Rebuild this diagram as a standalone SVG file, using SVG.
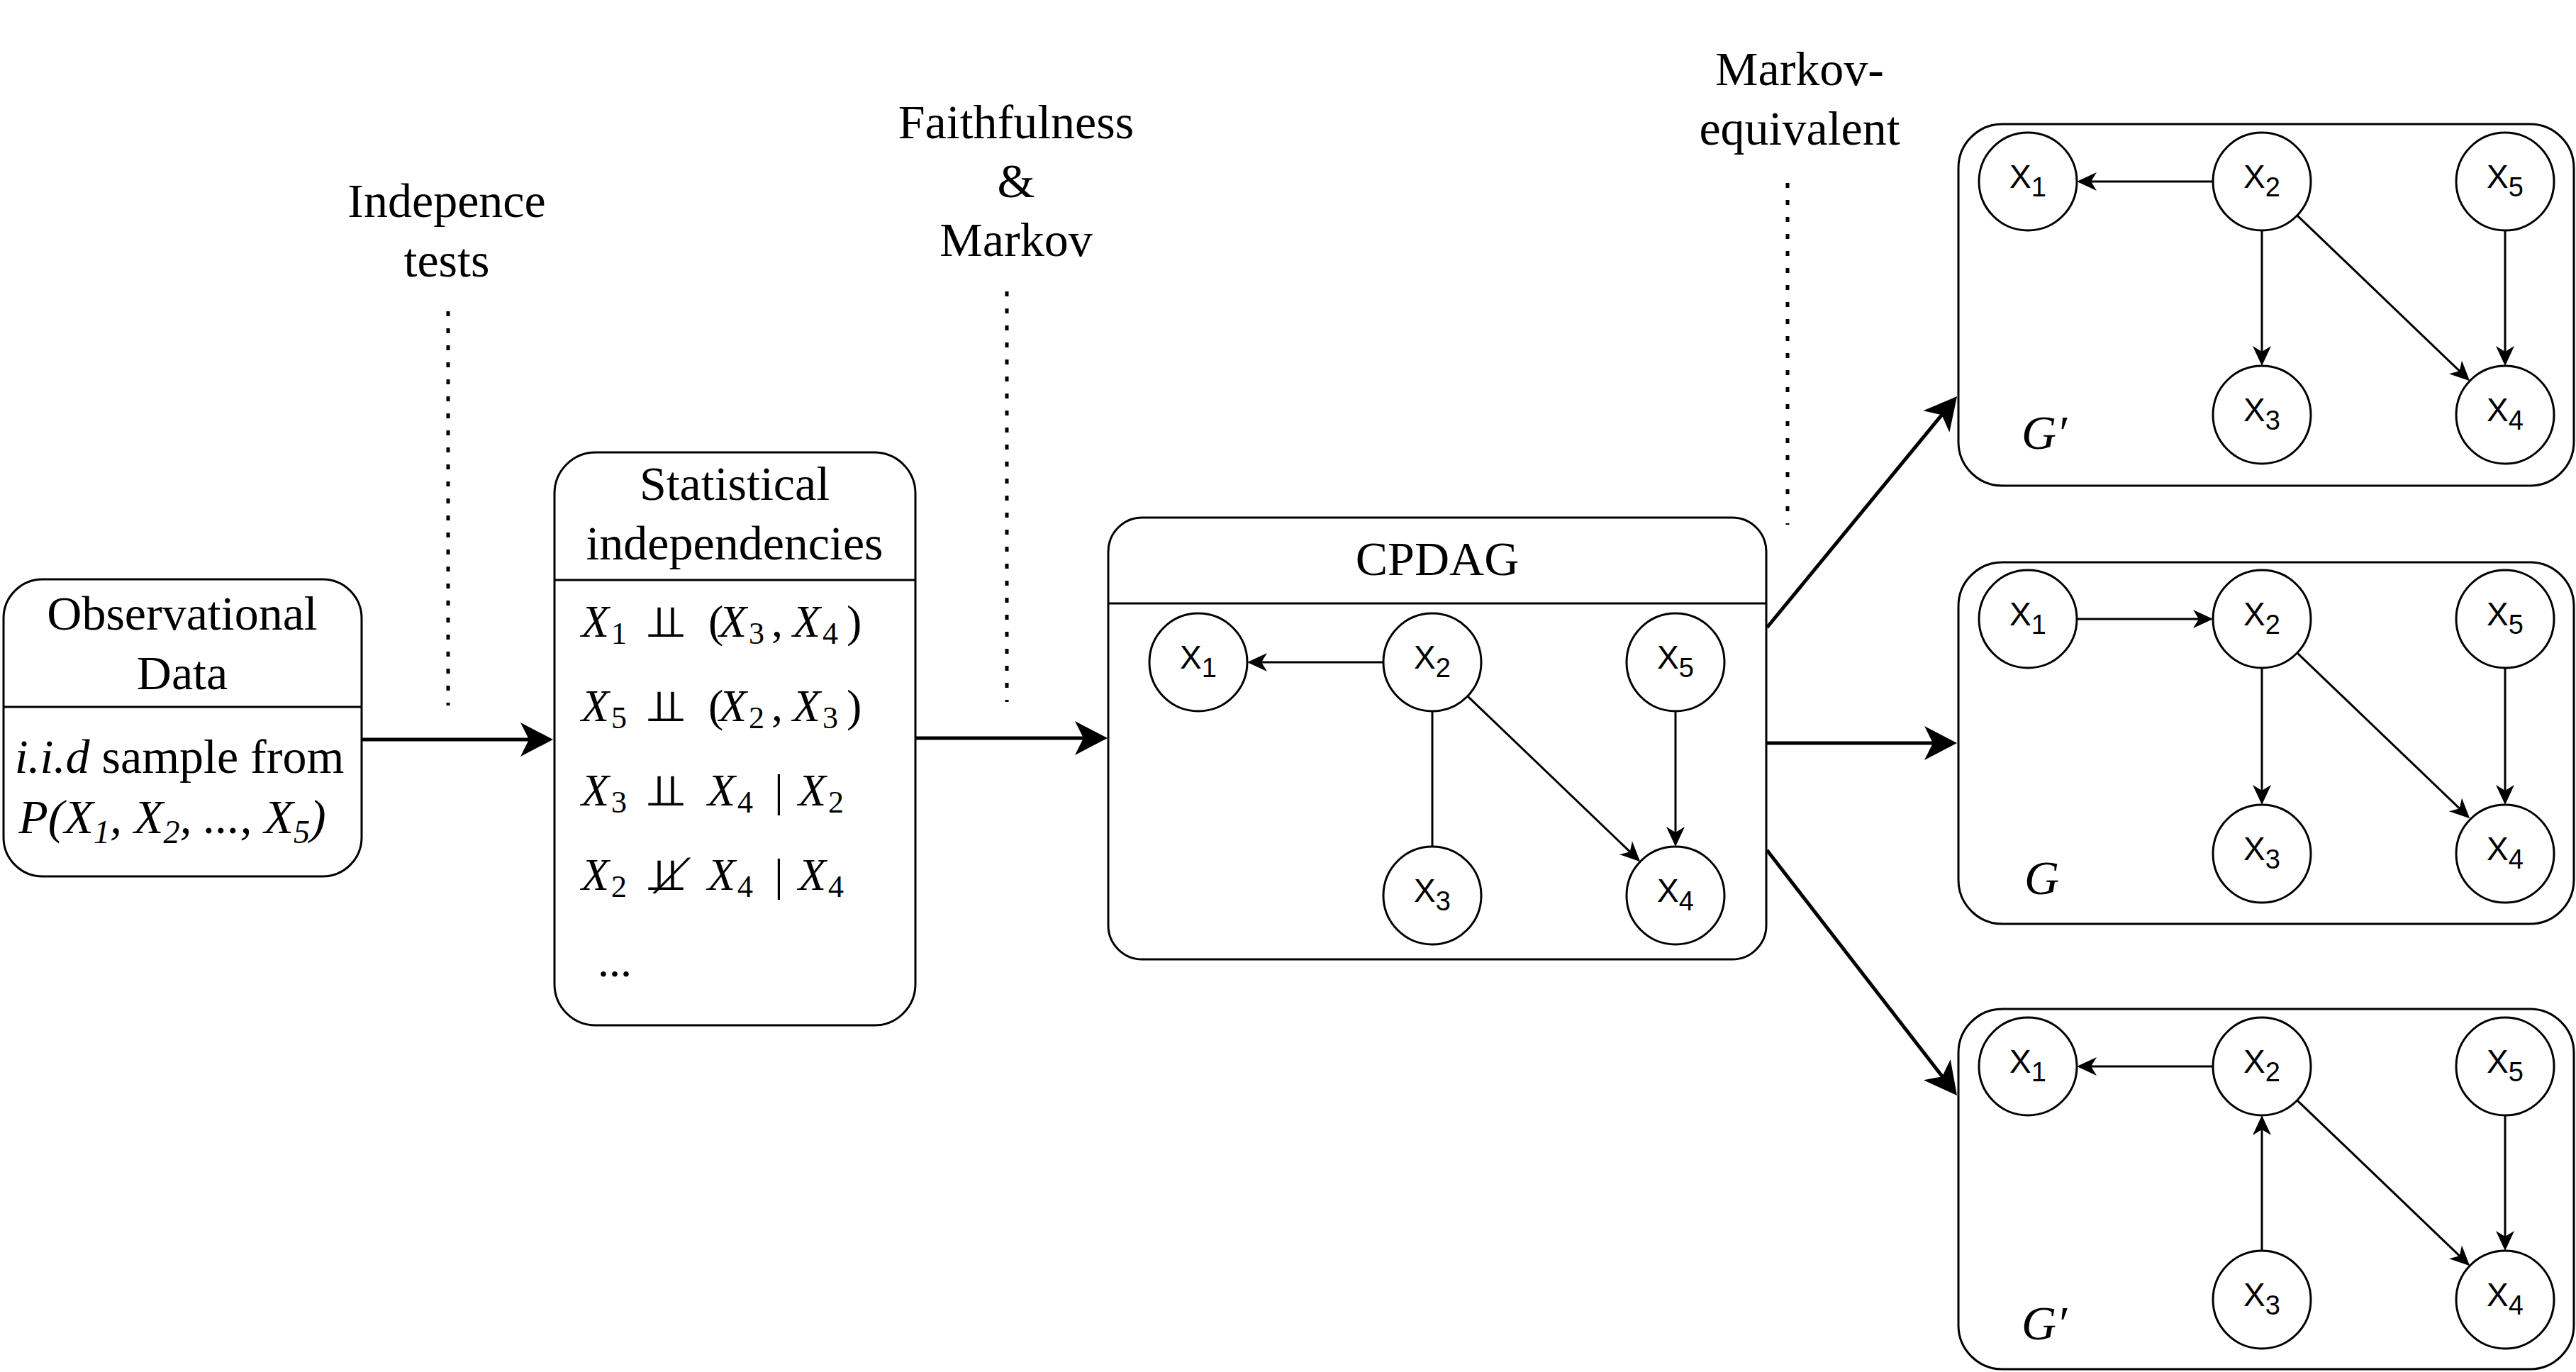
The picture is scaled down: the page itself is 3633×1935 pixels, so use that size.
<svg xmlns="http://www.w3.org/2000/svg" width="3633" height="1935" viewBox="0 0 3633 1935">
<style>
.box{fill:#fff;stroke:#000;stroke-width:3}
.div{stroke:#000;stroke-width:3}
.t{font-family:"Liberation Serif","Times New Roman",serif;font-size:68px;fill:#000}
.it{font-style:italic}
.m{font-family:"Liberation Serif","Times New Roman",serif;font-size:64px;fill:#000}
.ms{font-size:44px;font-style:normal}
.perp{font-family:"DejaVu Sans","DejaVu Serif",sans-serif;font-size:56px;fill:#000}
.n{font-family:"Liberation Sans",Arial,sans-serif;font-size:46px;fill:#000}
.nc{fill:#fff;stroke:#000;stroke-width:3}
.big{stroke:#000;stroke-width:5;fill:none}
.e{stroke:#000;stroke-width:3;fill:none}
.dot{stroke:#000;stroke-width:5;stroke-dasharray:7 17;fill:none}
</style>
<defs>
<marker id="bh" markerUnits="userSpaceOnUse" markerWidth="60" markerHeight="60" viewBox="-50 -30 60 60" refX="-30" refY="0" orient="auto"><path d="M0,0 L-46,-24 L-34,0 L-46,24 Z" fill="#000"/></marker>
<marker id="sh" markerUnits="userSpaceOnUse" markerWidth="40" markerHeight="40" viewBox="-32 -20 40 40" refX="-18" refY="0" orient="auto"><path d="M0,0 L-28,-13 L-20,0 L-28,13 Z" fill="#000"/></marker>
</defs>
<rect width="3633" height="1935" fill="#fff"/>

<g id="label-independence-tests">
<text class="t" x="630" y="306" text-anchor="middle">Indepence</text>
<text class="t" x="630" y="390" text-anchor="middle">tests</text>
<line class="dot" x1="632" y1="439" x2="632" y2="995"/>
</g>
<g id="label-faithfulness">
<text class="t" x="1433" y="195" text-anchor="middle">Faithfulness</text>
<text class="t" x="1433" y="278" text-anchor="middle">&amp;</text>
<text class="t" x="1433" y="361" text-anchor="middle">Markov</text>
<line class="dot" x1="1420" y1="411" x2="1420" y2="990"/>
</g>
<g id="label-markov-equivalent">
<text class="t" x="2538" y="120" text-anchor="middle">Markov-</text>
<text class="t" x="2538" y="204" text-anchor="middle">equivalent</text>
<line class="dot" x1="2521" y1="258" x2="2521" y2="740"/>
</g>

<g id="observational-data">
<rect class="box" x="5" y="817" width="505" height="419" rx="55"/>
<line class="div" x1="5" y1="997" x2="510" y2="997"/>
<text class="t" x="257" y="888" text-anchor="middle">Observational</text>
<text class="t" x="257" y="972" text-anchor="middle">Data</text>
<text class="t" x="253" y="1090" text-anchor="middle"><tspan class="it">i.i.d</tspan> sample from</text>
<text class="t it" x="243" y="1175" text-anchor="middle">P(X<tspan font-size="46" dy="14">1</tspan><tspan dy="-14">, X</tspan><tspan font-size="46" dy="14">2</tspan><tspan dy="-14">, ..., X</tspan><tspan font-size="46" dy="14">5</tspan><tspan dy="-14">)</tspan></text>
</g>

<g id="statistical-independencies">
<rect class="box" x="782" y="638" width="509" height="808" rx="58"/>
<line class="div" x1="782" y1="818" x2="1291" y2="818"/>
<text class="t" x="1036" y="705" text-anchor="middle">Statistical</text>
<text class="t" x="1036" y="789" text-anchor="middle">independencies</text>
<text class="m"><tspan class="it" x="820" y="898">X</tspan><tspan class="ms" x="862" y="908">1</tspan><tspan x="999" y="898">(</tspan><tspan class="it" x="1014" y="898">X</tspan><tspan class="ms" x="1056" y="908">3</tspan><tspan x="1088" y="898">,</tspan><tspan class="it" x="1118" y="898">X</tspan><tspan class="ms" x="1160" y="908">4</tspan><tspan x="1194" y="898">)</tspan></text>
<text class="perp" transform="translate(914,898) scale(1.6,1.1)">⫫</text>
<text class="m"><tspan class="it" x="820" y="1017">X</tspan><tspan class="ms" x="862" y="1027">5</tspan><tspan x="999" y="1017">(</tspan><tspan class="it" x="1014" y="1017">X</tspan><tspan class="ms" x="1056" y="1027">2</tspan><tspan x="1088" y="1017">,</tspan><tspan class="it" x="1118" y="1017">X</tspan><tspan class="ms" x="1160" y="1027">3</tspan><tspan x="1194" y="1017">)</tspan></text>
<text class="perp" transform="translate(914,1017) scale(1.6,1.1)">⫫</text>
<text class="m"><tspan class="it" x="820" y="1136">X</tspan><tspan class="ms" x="862" y="1146">3</tspan><tspan class="it" x="998" y="1136">X</tspan><tspan class="ms" x="1040" y="1146">4</tspan><tspan x="1092" y="1136">|</tspan><tspan class="it" x="1126" y="1136">X</tspan><tspan class="ms" x="1168" y="1146">2</tspan></text>
<text class="perp" transform="translate(914,1136) scale(1.6,1.1)">⫫</text>
<text class="m"><tspan class="it" x="820" y="1255">X</tspan><tspan class="ms" x="862" y="1265">2</tspan><tspan class="it" x="998" y="1255">X</tspan><tspan class="ms" x="1040" y="1265">4</tspan><tspan x="1092" y="1255">|</tspan><tspan class="it" x="1126" y="1255">X</tspan><tspan class="ms" x="1168" y="1265">4</tspan></text>
<text class="perp" transform="translate(914,1255) scale(1.6,1.1)">⫫̸</text>
<text class="m" x="843" y="1377">...</text>
</g>

<g id="cpdag">
<rect class="box" x="1563" y="730" width="928" height="623" rx="48"/>
<line class="div" x1="1563" y1="851" x2="2491" y2="851"/>
<text class="t" x="2027" y="811" text-anchor="middle">CPDAG</text>
</g>

<g id="graph-g-prime-top">
<rect class="box" x="2762" y="175" width="868" height="510" rx="62"/>
<text class="t it" x="2851" y="633">G′</text>
</g>
<g id="graph-g">
<rect class="box" x="2762" y="793" width="868" height="510" rx="62"/>
<text class="t it" x="2855" y="1261">G</text>
</g>
<g id="graph-g-prime-bottom">
<rect class="box" x="2762" y="1423" width="868" height="508" rx="62"/>
<text class="t it" x="2851" y="1889">G′</text>
</g>

<g id="connectors">
<line class="big" x1="510" y1="1043" x2="750" y2="1043" marker-end="url(#bh)"/>
<line class="big" x1="1291" y1="1041" x2="1532" y2="1041" marker-end="url(#bh)"/>
<line class="big" x1="2492" y1="885" x2="2741" y2="582.2" marker-end="url(#bh)"/>
<line class="big" x1="2492" y1="1048" x2="2730" y2="1048" marker-end="url(#bh)"/>
<line class="big" x1="2492" y1="1199" x2="2741.6" y2="1521.3" marker-end="url(#bh)"/>

<line class="e" x1="1951" y1="934" x2="1777" y2="934" marker-end="url(#sh)"/>
<line class="e" x1="2020" y1="1003" x2="2020" y2="1194"/>
<line class="e" x1="2069.8" y1="981.8" x2="2300.2" y2="1202.7" marker-end="url(#sh)"/>
<line class="e" x1="2363" y1="1003" x2="2363" y2="1176" marker-end="url(#sh)"/>

<line class="e" x1="3121" y1="256" x2="2947" y2="256" marker-end="url(#sh)"/>
<line class="e" x1="3190" y1="325" x2="3190" y2="498" marker-end="url(#sh)"/>
<line class="e" x1="3239.8" y1="303.8" x2="3470.2" y2="524.7" marker-end="url(#sh)"/>
<line class="e" x1="3533" y1="325" x2="3533" y2="498" marker-end="url(#sh)"/>

<line class="e" x1="2929" y1="873" x2="3103" y2="873" marker-end="url(#sh)"/>
<line class="e" x1="3190" y1="942" x2="3190" y2="1117" marker-end="url(#sh)"/>
<line class="e" x1="3239.8" y1="920.8" x2="3470.2" y2="1141.7" marker-end="url(#sh)"/>
<line class="e" x1="3533" y1="942" x2="3533" y2="1117" marker-end="url(#sh)"/>

<line class="e" x1="3121" y1="1504" x2="2947" y2="1504" marker-end="url(#sh)"/>
<line class="e" x1="3190" y1="1764" x2="3190" y2="1591" marker-end="url(#sh)"/>
<line class="e" x1="3239.8" y1="1551.8" x2="3470.2" y2="1772.7" marker-end="url(#sh)"/>
<line class="e" x1="3533" y1="1573" x2="3533" y2="1746" marker-end="url(#sh)"/>
</g>

<g id="cpdag-x1"><circle class="nc" cx="1690" cy="934" r="69"/><text class="n" x="1690" y="943" text-anchor="middle">X<tspan font-size="38" dy="12">1</tspan></text></g>
<g id="cpdag-x2"><circle class="nc" cx="2020" cy="934" r="69"/><text class="n" x="2020" y="943" text-anchor="middle">X<tspan font-size="38" dy="12">2</tspan></text></g>
<g id="cpdag-x5"><circle class="nc" cx="2363" cy="934" r="69"/><text class="n" x="2363" y="943" text-anchor="middle">X<tspan font-size="38" dy="12">5</tspan></text></g>
<g id="cpdag-x3"><circle class="nc" cx="2020" cy="1263" r="69"/><text class="n" x="2020" y="1272" text-anchor="middle">X<tspan font-size="38" dy="12">3</tspan></text></g>
<g id="cpdag-x4"><circle class="nc" cx="2363" cy="1263" r="69"/><text class="n" x="2363" y="1272" text-anchor="middle">X<tspan font-size="38" dy="12">4</tspan></text></g>

<g id="top-x1"><circle class="nc" cx="2860" cy="256" r="69"/><text class="n" x="2860" y="265" text-anchor="middle">X<tspan font-size="38" dy="12">1</tspan></text></g>
<g id="top-x2"><circle class="nc" cx="3190" cy="256" r="69"/><text class="n" x="3190" y="265" text-anchor="middle">X<tspan font-size="38" dy="12">2</tspan></text></g>
<g id="top-x5"><circle class="nc" cx="3533" cy="256" r="69"/><text class="n" x="3533" y="265" text-anchor="middle">X<tspan font-size="38" dy="12">5</tspan></text></g>
<g id="top-x3"><circle class="nc" cx="3190" cy="585" r="69"/><text class="n" x="3190" y="594" text-anchor="middle">X<tspan font-size="38" dy="12">3</tspan></text></g>
<g id="top-x4"><circle class="nc" cx="3533" cy="585" r="69"/><text class="n" x="3533" y="594" text-anchor="middle">X<tspan font-size="38" dy="12">4</tspan></text></g>

<g id="mid-x1"><circle class="nc" cx="2860" cy="873" r="69"/><text class="n" x="2860" y="882" text-anchor="middle">X<tspan font-size="38" dy="12">1</tspan></text></g>
<g id="mid-x2"><circle class="nc" cx="3190" cy="873" r="69"/><text class="n" x="3190" y="882" text-anchor="middle">X<tspan font-size="38" dy="12">2</tspan></text></g>
<g id="mid-x5"><circle class="nc" cx="3533" cy="873" r="69"/><text class="n" x="3533" y="882" text-anchor="middle">X<tspan font-size="38" dy="12">5</tspan></text></g>
<g id="mid-x3"><circle class="nc" cx="3190" cy="1204" r="69"/><text class="n" x="3190" y="1213" text-anchor="middle">X<tspan font-size="38" dy="12">3</tspan></text></g>
<g id="mid-x4"><circle class="nc" cx="3533" cy="1204" r="69"/><text class="n" x="3533" y="1213" text-anchor="middle">X<tspan font-size="38" dy="12">4</tspan></text></g>

<g id="bot-x1"><circle class="nc" cx="2860" cy="1504" r="69"/><text class="n" x="2860" y="1513" text-anchor="middle">X<tspan font-size="38" dy="12">1</tspan></text></g>
<g id="bot-x2"><circle class="nc" cx="3190" cy="1504" r="69"/><text class="n" x="3190" y="1513" text-anchor="middle">X<tspan font-size="38" dy="12">2</tspan></text></g>
<g id="bot-x5"><circle class="nc" cx="3533" cy="1504" r="69"/><text class="n" x="3533" y="1513" text-anchor="middle">X<tspan font-size="38" dy="12">5</tspan></text></g>
<g id="bot-x3"><circle class="nc" cx="3190" cy="1833" r="69"/><text class="n" x="3190" y="1842" text-anchor="middle">X<tspan font-size="38" dy="12">3</tspan></text></g>
<g id="bot-x4"><circle class="nc" cx="3533" cy="1833" r="69"/><text class="n" x="3533" y="1842" text-anchor="middle">X<tspan font-size="38" dy="12">4</tspan></text></g>
</svg>
